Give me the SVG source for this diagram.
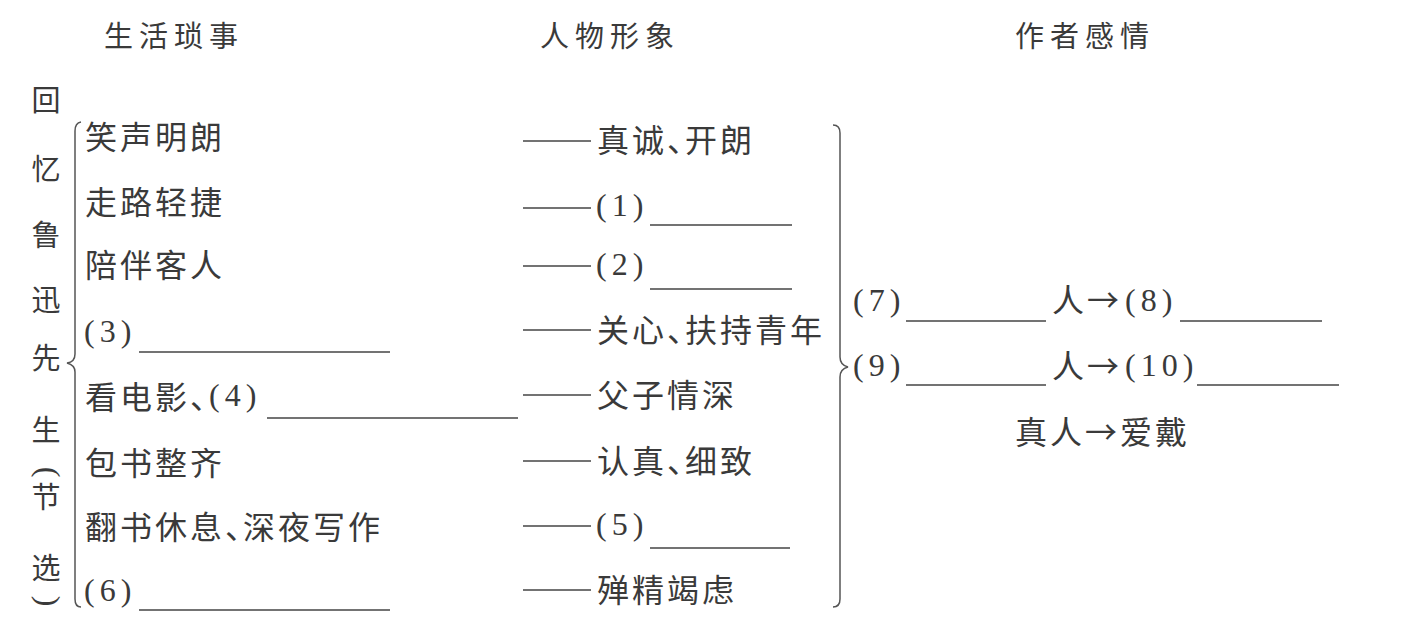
<svg xmlns="http://www.w3.org/2000/svg" width="1412" height="631" viewBox="0 0 1412 631">
<style>
.h{font-family:"Noto Sans CJK SC","Noto Sans CJK JP",sans-serif;font-size:29px;letter-spacing:6px;fill:#3a3a3a}
.t{font-family:"Noto Sans CJK SC","Noto Sans CJK JP",sans-serif;font-size:32px;letter-spacing:3px;fill:#3a3a3a}
.c{letter-spacing:-14px}
.v{font-family:"Noto Sans CJK SC","Noto Sans CJK JP",sans-serif;font-size:29px;fill:#3a3a3a;text-anchor:middle}
.n{font-family:"Liberation Serif","Times New Roman",serif;font-size:32px;letter-spacing:5px;fill:#3a3a3a}
.p{font-family:"Liberation Serif","Times New Roman",serif;font-size:32px;fill:#3a3a3a;text-anchor:middle}
.u{stroke:#444;stroke-width:1.6;fill:none}
.d{stroke:#444;stroke-width:1.5;fill:none}
.b{stroke:#555;stroke-width:1.5;fill:none}
</style>
<rect width="1412" height="631" fill="#fff"/>

<g id="headers">
<text class="h" x="104" y="47">生活琐事</text>
<text class="h" x="540" y="47">人物形象</text>
<text class="h" x="1015" y="47">作者感情</text>
</g>

<g id="title">
<text class="v" x="46" y="111">回</text>
<text class="v" x="46" y="180">忆</text>
<text class="v" x="46" y="246">鲁</text>
<text class="v" x="46" y="311">迅</text>
<text class="v" x="46" y="369">先</text>
<text class="v" x="46" y="441">生</text>
<g transform="translate(46,472) rotate(90)"><text class="p" x="0" y="8">(</text></g>
<text class="v" x="46" y="508">节</text>
<text class="v" x="46" y="579">选</text>
<g transform="translate(46,601) rotate(90)"><text class="p" x="0" y="8">)</text></g>
</g>

<g id="events">
<text class="t" x="85" y="149">笑声明朗</text>
<text class="t" x="85" y="214">走路轻捷</text>
<text class="t" x="85" y="277">陪伴客人</text>
<text class="n" x="84" y="342">(3)</text>
<line class="u" x1="139" y1="352" x2="390" y2="352"/>
<text class="t" x="85" y="409">看电影<tspan class="c">、</tspan><tspan class="n" dx="1" dy="-3">(4)</tspan></text>
<line class="u" x1="267" y1="418" x2="518" y2="418"/>
<text class="t" x="85" y="475">包书整齐</text>
<text class="t" x="85" y="539">翻书休息<tspan class="c">、</tspan>深夜写作</text>
<text class="n" x="84" y="601">(6)</text>
<line class="u" x1="139" y1="610" x2="390" y2="610"/>
</g>

<g id="traits">
<text class="t" x="597" y="152">真诚<tspan class="c">、</tspan>开朗</text>
<text class="n" x="596" y="216">(1)</text>
<line class="u" x1="650" y1="225" x2="792" y2="225"/>
<text class="n" x="596" y="275">(2)</text>
<line class="u" x1="650" y1="289" x2="792" y2="289"/>
<text class="t" x="597" y="342">关心<tspan class="c">、</tspan>扶持青年</text>
<text class="t" x="597" y="407">父子情深</text>
<text class="t" x="597" y="473">认真<tspan class="c">、</tspan>细致</text>
<text class="n" x="596" y="535">(5)</text>
<line class="u" x1="650" y1="548" x2="790" y2="548"/>
<text class="t" x="597" y="602">殚精竭虑</text>
</g>

<g id="feelings">
<text class="n" x="853" y="311">(7)</text>
<line class="u" x1="906" y1="321" x2="1046" y2="321"/>
<text class="t" x="1052" y="312">人→</text>
<text class="n" x="1125" y="311">(8)</text>
<line class="u" x1="1180" y1="321" x2="1322" y2="321"/>
<text class="n" x="853" y="376">(9)</text>
<line class="u" x1="906" y1="385" x2="1046" y2="385"/>
<text class="t" x="1052" y="378">人→</text>
<text class="n" x="1125" y="376" letter-spacing="3">(10)</text>
<line class="u" x1="1197" y1="385" x2="1339" y2="385"/>
<text class="t" x="1015" y="444">真人→爱戴</text>
</g>

<g id="connectors">
<path class="b" d="M81,122 Q75,123 75,131 L75,354 Q75,362 67,363 Q75,365 75,372 L75,599 Q75,607 81,607"/>
<path class="b" d="M833,125 Q840,125 840,133 L840,357 Q840,365 848,367 Q840,369 840,377 L840,599 Q840,607 833,607"/>
<line class="d" x1="523" y1="141" x2="591" y2="141"/>
<line class="d" x1="523" y1="208" x2="591" y2="208"/>
<line class="d" x1="523" y1="266" x2="591" y2="266"/>
<line class="d" x1="523" y1="330" x2="591" y2="330"/>
<line class="d" x1="523" y1="395" x2="591" y2="395"/>
<line class="d" x1="523" y1="461" x2="591" y2="461"/>
<line class="d" x1="523" y1="526" x2="591" y2="526"/>
<line class="d" x1="523" y1="590" x2="591" y2="590"/>
</g>
</svg>
